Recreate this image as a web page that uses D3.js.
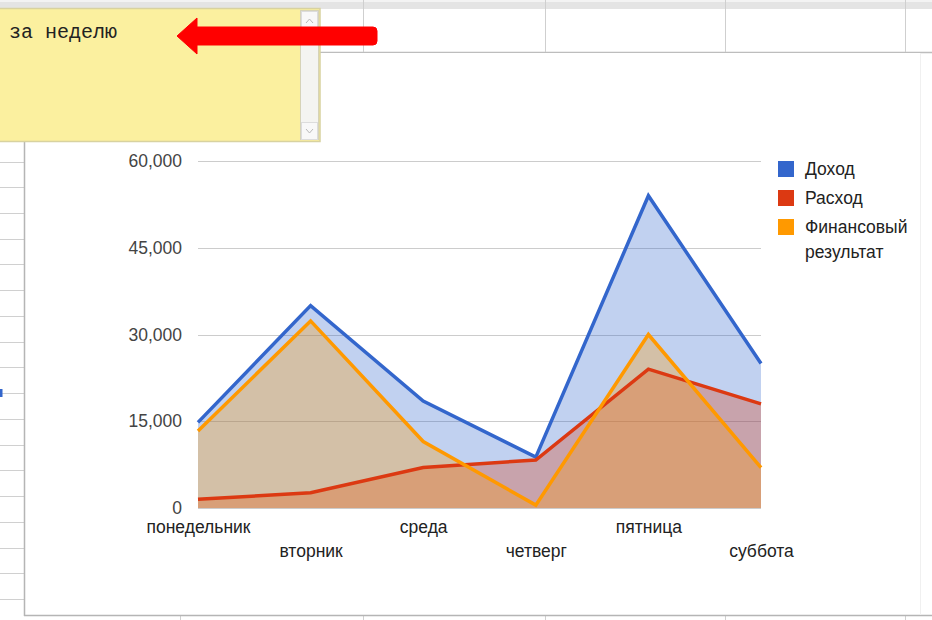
<!DOCTYPE html>
<html>
<head>
<meta charset="utf-8">
<script src="https://cdn.jsdelivr.net/npm/d3@7"></script>
<style>
  html, body { margin: 0; padding: 0; background: #fff; }
  svg { display: block; font-family: "Liberation Sans", Arial, sans-serif; }
</style>
</head>
<body>
<svg id="chart" width="932" height="620"></svg>
<script>
// Weekly figures
const days = ["понедельник", "вторник", "среда", "четверг", "пятница", "суббота"];
const income = [14800, 35000, 18500, 8800, 54000, 25000];
const expense = [1500, 2650, 7000, 8300, 24000, 18000];
const result = [13300, 32350, 11500, 500, 30000, 7000];
const seriesNames = ["Доход", "Расход", "Финансовый результат"];
const seriesColors = ["#3366cc", "#dc3912", "#ff9900"];
const yTicks = [0, 15000, 30000, 45000, 60000];

const svg = d3.select("#chart");
const sans = "'Liberation Sans', Arial, sans-serif";

// ---- spreadsheet backdrop ----
const sheet = svg.append("g");
sheet.append("rect").attr("x", 0).attr("y", 0).attr("width", 932).attr("height", 9).attr("fill", "#f3f3f3");
sheet.append("rect").attr("x", 0).attr("y", 2).attr("width", 932).attr("height", 7).attr("fill", "#e4e4e4");
sheet.append("line").attr("x1", 0).attr("x2", 932).attr("y1", 52.5).attr("y2", 52.5)
  .attr("stroke", "#bdbdbd").attr("stroke-width", 1.5);
[363, 545, 725, 905].forEach(x => {
  sheet.append("line").attr("x1", x + 0.5).attr("x2", x + 0.5).attr("y1", 0).attr("y2", 52)
    .attr("stroke", "#cfcfcf");
});
// row lines to the left of the chart
[162, 187, 213, 239, 264, 290, 316, 342, 367, 393, 419, 445, 470, 496, 522, 548, 573, 599].forEach(y => {
  sheet.append("line").attr("x1", 0).attr("x2", 24).attr("y1", y + 0.5).attr("y2", y + 0.5)
    .attr("stroke", "#d0d0d0");
});
sheet.append("rect").attr("x", 0).attr("y", 389).attr("width", 2.5).attr("height", 8).attr("fill", "#3366cc");
// column ticks below the chart box
[180, 363, 545, 725, 905].forEach(x => {
  sheet.append("line").attr("x1", x + 0.5).attr("x2", x + 0.5).attr("y1", 615).attr("y2", 620)
    .attr("stroke", "#d0d0d0");
});

// chart box
const box = svg.append("g");
box.append("rect").attr("x", 24).attr("y", 53).attr("width", 896).attr("height", 562).attr("fill", "#fff");
box.append("line").attr("x1", 24.5).attr("x2", 24.5).attr("y1", 142).attr("y2", 616)
  .attr("stroke", "#b5b5b5").attr("stroke-width", 1.5);
box.append("line").attr("x1", 24).attr("x2", 932).attr("y1", 615.5).attr("y2", 615.5)
  .attr("stroke", "#b5b5b5").attr("stroke-width", 1.5);
box.append("line").attr("x1", 920.5).attr("x2", 920.5).attr("y1", 53).attr("y2", 615)
  .attr("stroke", "#f0f0f0");

// ---- chart ----
const x = d3.scalePoint().domain(days).range([198, 761]);
const y = d3.scaleLinear().domain([0, 60000]).range([508, 161]);

// gridlines
svg.append("g").selectAll("line").data(yTicks).join("line")
  .attr("x1", 198).attr("x2", 761)
  .attr("y1", d => Math.round(y(d)) + 0.5).attr("y2", d => Math.round(y(d)) + 0.5)
  .attr("stroke", "#cccccc").attr("stroke-width", 1);

// y axis labels
const yAxis = svg.append("g").attr("transform", "translate(198,0)")
  .call(d3.axisLeft(y).tickValues(yTicks).tickSize(0).tickPadding(16).tickFormat(d3.format(",")));
yAxis.select(".domain").remove();
yAxis.selectAll("text").style("font-size", "17.5px").style("font-family", sans).attr("fill", "#444");

// x axis labels, staggered in two rows
const xAxis = svg.append("g").attr("transform", "translate(0,508)")
  .call(d3.axisBottom(x).tickSize(0));
xAxis.select(".domain").remove();
xAxis.selectAll("text")
  .style("font-size", "17.5px").style("font-family", sans).attr("fill", "#222")
  .attr("dy", null)
  .attr("y", (d, i) => i % 2 === 0 ? 25 : 49);

// areas and lines
const data = [income, expense, result];
const area = d3.area().x((d, i) => x(days[i])).y0(y(0)).y1(d => y(d));
const line = d3.line().x((d, i) => x(days[i])).y(d => y(d));

const areas = svg.append("g");
data.forEach((vals, k) => {
  areas.append("path").datum(vals).attr("d", area)
    .attr("fill", seriesColors[k]).attr("fill-opacity", 0.3);
});
const lines = svg.append("g");
data.forEach((vals, k) => {
  lines.append("path").datum(vals).attr("d", line)
    .attr("fill", "none").attr("stroke", seriesColors[k]).attr("stroke-width", 3.5)
    .attr("stroke-linejoin", "miter");
});

// legend
const legend = svg.append("g");
const legendRows = [
  { name: seriesNames[0], color: seriesColors[0], y: 161 },
  { name: seriesNames[1], color: seriesColors[1], y: 190 },
  { name: seriesNames[2], color: seriesColors[2], y: 219 }
];
legendRows.forEach(r => {
  legend.append("rect").attr("x", 778).attr("y", r.y).attr("width", 16).attr("height", 16).attr("fill", r.color);
});
const legText = legend.selectAll("text.leg").data(legendRows).join("text")
  .attr("class", "leg")
  .attr("x", 805).attr("y", d => d.y + 14)
  .style("font-size", "17.5px").style("font-family", sans).attr("fill", "#222");
legText.each(function(d) {
  const t = d3.select(this);
  const parts = d.name.split(" ");
  if (parts.length > 1) {
    t.append("tspan").attr("x", 805).text(parts[0]);
    t.append("tspan").attr("x", 805).attr("dy", 25).text(parts[1]);
  } else {
    t.text(d.name);
  }
});

// ---- note box with caption and arrow ----
const note = svg.append("g");
note.append("rect").attr("x", -2).attr("y", 8.5).attr("width", 322).attr("height", 133)
  .attr("fill", "#fbf09f").attr("stroke", "#d8d2a0").attr("stroke-width", 1.5);
// scrollbar
note.append("rect").attr("x", 300.5).attr("y", 10.5).attr("width", 18).attr("height", 129)
  .attr("fill", "#f4f4f1").attr("stroke", "#d6d3b8");
note.append("rect").attr("x", 301.5).attr("y", 11.5).attr("width", 16).attr("height", 17)
  .attr("fill", "#f8f8f8").attr("stroke", "#dcdcdc");
note.append("rect").attr("x", 301.5).attr("y", 122.5).attr("width", 16).attr("height", 17)
  .attr("fill", "#f8f8f8").attr("stroke", "#dcdcdc");
note.append("path").attr("d", "M306,23 L309.5,19 L313,23").attr("fill", "none").attr("stroke", "#b8b8b8");
note.append("path").attr("d", "M306,129 L309.5,133 L313,129").attr("fill", "none").attr("stroke", "#b8b8b8");

note.append("text").attr("x", 9).attr("y", 38)
  .style("font-family", "'Liberation Mono', 'Courier New', monospace")
  .style("font-size", "20px").attr("fill", "#222").text("за неделю");

// red arrow
note.append("path")
  .attr("d", "M177,36 L197,18 L197,27 L373,27 Q377,27 377,31 L377,41 Q377,45 373,45 L197,45 L197,54 Z")
  .attr("fill", "#ff0000").attr("stroke", "#ff0000").attr("stroke-width", 1).attr("stroke-linejoin", "round");
</script>
</body>
</html>
